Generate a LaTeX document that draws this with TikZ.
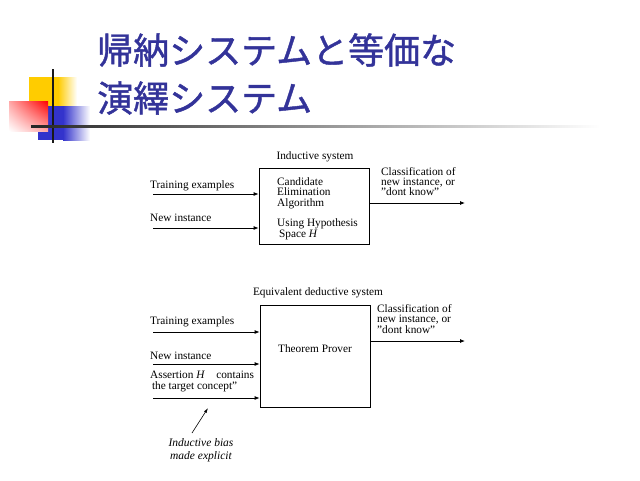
\documentclass[tikz,border=0pt]{standalone}
\usepackage{fontspec}
\setmainfont[Ligatures=Common]{Liberation Serif}
\newfontfamily\jpfont[FakeBold=1.2]{Noto Sans CJK JP}
\usetikzlibrary{arrows.meta,shadings}
\definecolor{titleblue}{HTML}{333399}
\definecolor{decoyellow}{HTML}{FFCC00}
\definecolor{decoblue}{HTML}{3333CC}
\tikzset{
  lbl/.style={font=\fontsize{11.3}{10.5}\selectfont, inner sep=0pt, align=left},
  box/.style={draw, line width=0.8pt, minimum width=110pt, inner sep=0pt},
  arr/.style={-{Latex[length=5pt,width=4pt]}, line width=0.8pt},
}
\begin{document}
\begin{tikzpicture}[x=1pt, y=-1pt]
			\useasboundingbox (0,0) rectangle (640,480);
			% corner ornament
			\fill[decoyellow] (29,77) rectangle (58,110);
			\shade[left color=decoyellow, right color=white] (58,77) rectangle (77,110);
			\fill[decoblue] (38,106) rectangle (63,140);
			\shade[left color=decoblue, right color=white] (63,106) rectangle (90,140);
			\shade[upper right=red, lower left=white, upper left=red!35, lower right=red!35]
				(9,101) rectangle (48,131);
			\draw[line width=2pt, color=black!90] (53,69) -- (53,143);
			\shade[left color=black!85, right color=white] (31,125) rectangle (600,127);
			% title
			\node[anchor=west, inner sep=0pt, text=titleblue, font=\jpfont\fontsize{36}{36}\selectfont]
				(t1) at (97,50) {帰納システムと等価な};
			\node[anchor=west, inner sep=0pt, text=titleblue, font=\jpfont\fontsize{36}{36}\selectfont]
				(t2) at (97,98) {演繹システム};
			% inductive system
			\node[box, minimum height=76pt] (ib) at (314,206) {};
			\node[lbl] (ibt) at (315,157) {Inductive system};
			\node[lbl, anchor=north west] (ib1) at (277,177) {Candidate\\Elimination\\Algorithm};
			\node[lbl, anchor=north west, font=\fontsize{11.3}{11}\selectfont] (ib2) at (277,218)
				{Using Hypothesis\\ \,Space \textit{H}};
			\node[lbl, anchor=west] (te1) at (150,186) {Training examples};
			\node[lbl, anchor=west] (ni1) at (150,218) {New instance};
			\node[lbl, anchor=north west, font=\fontsize{11.3}{10}\selectfont] (cl1) at (381,167)
				{Classification of\\new instance, or\\"dont know"};
			\coordinate (s1) at (153,194);
			\coordinate (s2) at (153,228);
			\coordinate (o1) at (465,203);
			\draw[arr] (s1) -- (s1 -| ib.west);
			\draw[arr] (s2) -- (s2 -| ib.west);
			\draw[arr] (ib.east |- o1) -- (o1);
			% equivalent deductive system
			\node[box, minimum height=102pt] (db) at (315,356) {};
			\node[lbl] (dbt) at (318,293) {Equivalent deductive system};
			\node[lbl] (tp) at (315,349) {Theorem Prover};
			\node[lbl, anchor=west] (te2) at (150,322) {Training examples};
			\node[lbl, anchor=west] (ni2) at (150,356) {New instance};
			\node[lbl, anchor=north west, font=\fontsize{11.3}{11}\selectfont] (as) at (150,371)
				{Assertion \textit{H}\quad contains\\ \,the target concept"};
			\node[lbl, anchor=north west] (cl2) at (377,304)
				{Classification of\\new instance, or\\"dont know"};
			\coordinate (s3) at (153,332);
			\coordinate (s4) at (153,364);
			\coordinate (s5) at (153,398);
			\coordinate (o2) at (465,341);
			\draw[arr] (s3) -- (s3 -| db.west);
			\draw[arr] (s4) -- (s4 -| db.west);
			\draw[arr] (s5) -- (s5 -| db.west);
			\draw[arr] (db.east |- o2) -- (o2);
			% inductive bias note
			\node[lbl, align=center, font=\itshape\fontsize{11.5}{12.5}\selectfont] (bias) at (201,450)
				{Inductive bias\\made explicit};
			\coordinate (bt) at (192,433);
			\coordinate (bh) at (208,408);
			\draw[-{Latex[length=5pt,width=3pt]}, line width=0.6pt] (bt) -- (bh);
		\end{tikzpicture}
\end{document}
